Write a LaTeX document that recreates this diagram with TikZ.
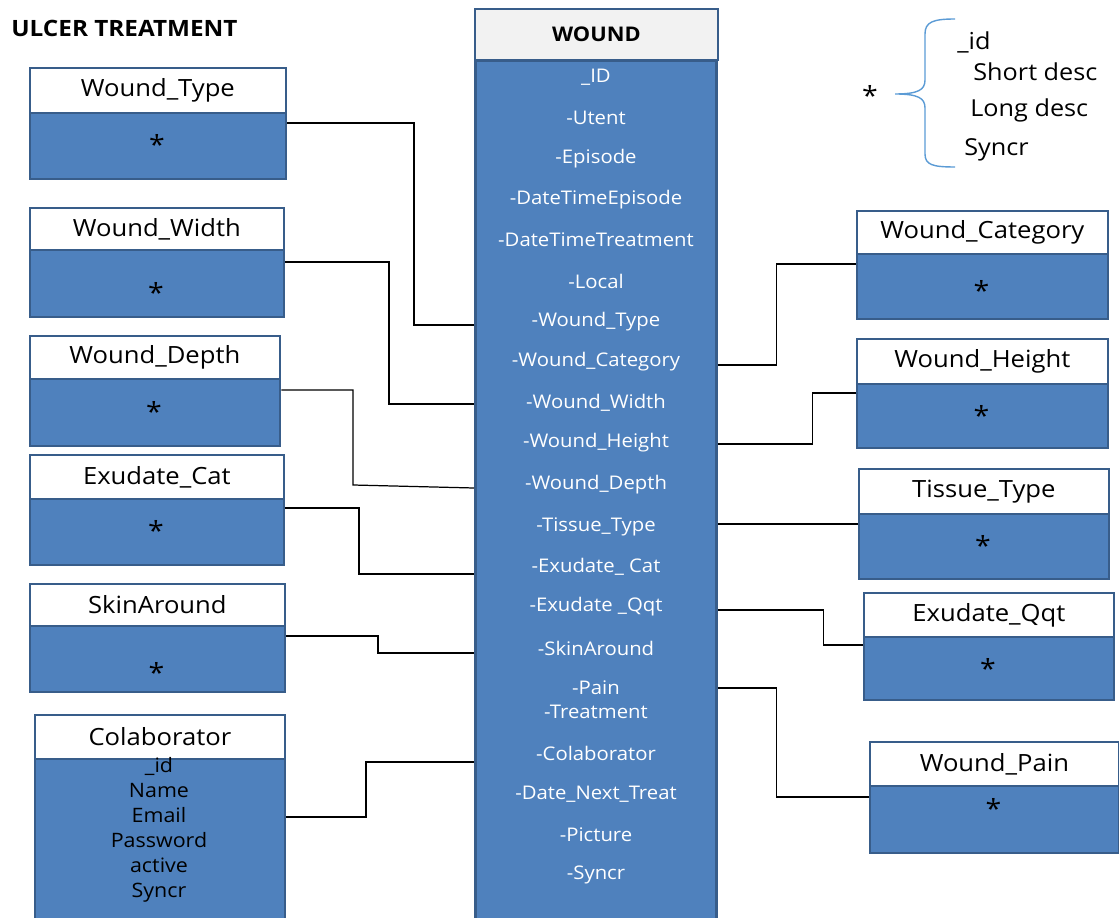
\documentclass[tikz,border=0pt]{standalone}
\usepackage{fontspec}
\setmainfont[FakeStretch=1.08]{Open Sans}
\usepackage{tikz}
\usetikzlibrary{positioning,calc}
\definecolor{boxblue}{RGB}{79,129,189}
\definecolor{boxline}{RGB}{56,93,138}
\definecolor{headgray}{RGB}{242,242,242}
\definecolor{bracecol}{RGB}{91,155,213}
\tikzset{
  head/.style={draw=boxline, line width=1pt, fill=white, anchor=north west, inner sep=0pt,
    font=\fontsize{13.5}{15}\selectfont},
  body/.style={draw=boxline, line width=1.4pt, fill=boxblue, anchor=north west, inner sep=0pt},
  attr/.style={text=white, inner sep=0pt, font=\fontsize{10.7}{12}\selectfont},
  starmark/.style={inner sep=0pt, font=\fontsize{15}{15}\selectfont},
  colitems/.style={align=center, inner sep=0pt, font=\fontsize{11.3}{14.2}\selectfont},
  bracetext/.style={anchor=west, inner sep=0pt, font=\fontsize{13.3}{15}\selectfont},
  link/.style={draw=black, line width=0.7pt},
}

\begin{document}
\begin{tikzpicture}[x=0.02cm, y=-0.02cm]
\def\px{0.02cm}
\useasboundingbox (0,0) rectangle (1119,918);
\clip (0,0) rectangle (1119,918);

% Titel
\node[anchor=west, inner sep=0pt, font=\bfseries\fontsize{12.8}{14}\selectfont] (title) at (11,28) {ULCER TREATMENT};

% Haupttabelle WOUND
\node[head, fill=headgray, minimum width=243*\px, minimum height=51*\px,
  font=\bfseries\fontsize{11.5}{13}\selectfont] (woundH) at (474,8) {WOUND};
\node[body, line width=1.8pt, minimum width=241*\px, minimum height=870*\px] (wound) at (474,59) {};

%Attribute von WOUND
\foreach \nm/\t/\yy in {aID/\_ID/77, aUtent/-Utent/118, aEpisode/-Episode/159,
  aDTE/-DateTimeEpisode/200, aDTT/-DateTimeTreatment/240, aLocal/-Local/281,
  aType/-Wound\_Type/322, aCat/-Wound\_Category/362, aWidth/-Wound\_Width/403,
  aHeight/-Wound\_Height/443, aDepth/-Wound\_Depth/485, aTissue/-Tissue\_Type/527,
  aExCat/-Exudate\_ Cat/567, aQqt/-Exudate \_Qqt/607, aSkin/-SkinAround/648,
  aPain/-Pain/688, aTreat/-Treatment/712, aColab/-Colaborator/753,
  aNext/-Date\_Next\_Treat/794, aPic/-Picture/835, aSyncr/-Syncr/875}
\node[attr] (\nm) at (596,\yy) {\t};

% Tabellen links und rechts
\foreach \nm/\ttl/\xx/\yt/\ww/\yh/\yb/\ys in {
  wType/Wound\_Type/29/67/256/112/178/139,
  wWidth/Wound\_Width/29/207/254/249/316/287,
  wDepth/Wound\_Depth/29/335/250/378/445/406,
  exCat/Exudate\_Cat/29/454/254/498/564/525,
  skin/SkinAround/29/583/255/625/691/667,
  wCat/Wound\_Category/856/210/251/253/318/285,
  wHeight/Wound\_Height/856/338/251/383/447/410,
  tissue/Tissue\_Type/858/468/250/513/578/540,
  exQqt/Exudate\_Qqt/863/592/250/636/699/663,
  wPain/Wound\_Pain/869/741/249/785/852/803}
{
\node[head, minimum width=\ww*\px, minimum height=(\yh-\yt)*\px] (\nm H) at (\xx,\yt) {\ttl};
\node[body, minimum width=\ww*\px, minimum height=(\yb-\yh)*\px] (\nm) at (\xx,\yh) {};
\node[starmark] (\nm S) at (\xx+\ww/2,\ys+5) {*};
}

% Colaborator
\node[head, minimum width=250*\px, minimum height=44*\px] (colabH) at (34,714) {Colaborator};
\node[body, minimum width=250*\px, minimum height=215*\px] (colab) at (34,758) {};
\node[colitems] (colabItems) at (159,830) {\_id\\Name\\Email\\Password\\active\\Syncr};

% Legende mit Klammer
\node[starmark] (bStar) at (870,95) {*};
\draw[bracecol, line width=0.8pt] (955,19) .. controls (933,19) and (925,22) .. (925,34) -- (925,80)
  .. controls (925,90) and (918,94) .. (895,94) .. controls (918,94) and (925,98) .. (925,108)
  -- (925,154) .. controls (925,165) and (933,167) .. (955,167);
\node[bracetext] (bId) at (957,42) {\_id};
\node[bracetext] (bShort) at (973,72) {Short desc};
\node[bracetext] (bLong) at (970,110) {Long desc};
\node[bracetext] (bSyncr) at (964,150) {Syncr};

% Verbindungen links
\draw[link] ($(wType.north east)+(0,11)$) -| ($(wound.west |- aType)+(-60,3)$) -- ($(wound.west |- aType)+(0,3)$);
\draw[link] ($(wWidth.north east)+(0,13)$) -| ($(wound.west |- aWidth)+(-85,1)$) -- ($(wound.west |- aWidth)+(0,1)$);
\draw[link] ($(wDepth.north east)+(0,12)$) -| ($(wound.west |- aDepth)+(-121,0)$) -- ($(wound.west |- aDepth)+(0,3)$);
\draw[link] ($(exCat.north east)+(0,10)$) -| ($(wound.west |- aExCat)+(-115,7)$) -- ($(wound.west |- aExCat)+(0,7)$);
\draw[link] ($(skin.north east)+(0,11)$) -| ($(wound.west |- aSkin)+(-96,5)$) -- ($(wound.west |- aSkin)+(0,5)$);
\draw[link] ($(colab.north east)+(0,59)$) -| ($(wound.west |- aColab)+(-108,9)$) -- ($(wound.west |- aColab)+(0,9)$);

% Verbindungen rechts
\draw[link] ($(wCat.north west)+(0,11)$) -| ($(wound.east |- aCat)+(58,3)$) -- ($(wound.east |- aCat)+(0,3)$);
\draw[link] ($(wHeight.north west)+(0,10)$) -| ($(wound.east |- aHeight)+(94,1)$) -- ($(wound.east |- aHeight)+(0,1)$);
\draw[link] ($(tissue.north west)+(0,11)$) -- ($(wound.east |- aTissue)+(0,-3)$);
\draw[link] ($(exQqt.north west)+(0,9)$) -| ($(wound.east |- aQqt)+(105,3)$) -- ($(wound.east |- aQqt)+(0,3)$);
\draw[link] ($(wPain.north west)+(0,12)$) -| ($(wound.east |- aPain)+(58,0)$) -- (wound.east |- aPain);
\end{tikzpicture}
\end{document}
